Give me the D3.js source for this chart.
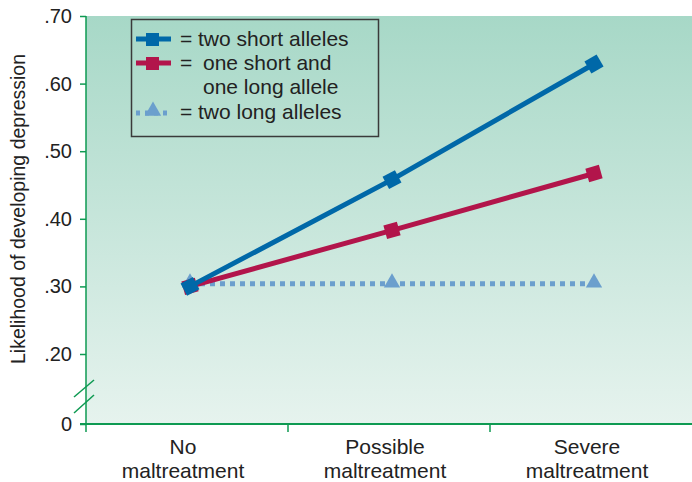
<!DOCTYPE html>
<html><head><meta charset="utf-8">
<script src="https://cdn.jsdelivr.net/npm/d3@7"></script>
<style>body{margin:0;background:#fff}svg{display:block;font-family:"Liberation Sans",Arial,sans-serif}</style>
</head><body>
<script>
const categories = [["No","maltreatment"],["Possible","maltreatment"],["Severe","maltreatment"]];
const twoShort = [0.30, 0.458, 0.629];
const oneShortOneLong = [0.30, 0.383, 0.467];
const twoLong = [0.304, 0.304, 0.304];
const yTicks = [0, 0.20, 0.30, 0.40, 0.50, 0.60, 0.70];
const yTickLabels = ["0", ".20", ".30", ".40", ".50", ".60", ".70"];
const legendLabels = [["two short alleles"],["one short and","one long allele"],["two long alleles"]];

const W = 692, H = 482;
const svg = d3.select("body").append("svg").attr("width", W).attr("height", H);
const mL = 86, mR = 692, mT = 16, mB = 424;
const FS = "20px", FS2 = "21px";

const xb = d3.scaleBand().domain(d3.range(categories.length)).range([mL, mR]);
const x = d3.scalePoint().domain(d3.range(categories.length)).range([190, 594]);
const y = d3.scaleLinear().domain([0, 0.2, 0.7]).range([mB, 354, mT]);

const defs = svg.append("defs");
const g = defs.append("linearGradient").attr("id","bg").attr("x1",0).attr("y1",0).attr("x2",0).attr("y2",1);
g.append("stop").attr("offset","0%").attr("stop-color","#a7d8c7");
g.append("stop").attr("offset","100%").attr("stop-color","#e6f3ee");
svg.append("rect").attr("x",mL).attr("y",mT).attr("width",mR-mL).attr("height",mB-mT).attr("fill","url(#bg)");

const green = "#0e9a52";
// y axis
const yAxis = d3.axisLeft(y).tickValues(yTicks).tickFormat((d,i)=>yTickLabels[i]).tickSize(6).tickPadding(8);
const ya = svg.append("g").attr("transform",`translate(${mL},0)`).call(yAxis);
ya.select(".domain").remove();
ya.selectAll(".tick line").attr("stroke",green).attr("stroke-width",1.5);
ya.selectAll(".tick text").attr("fill","#222").style("font-size",FS).style("font-family","'Liberation Sans',Arial,sans-serif");
svg.append("line").attr("x1",mL).attr("x2",mL).attr("y1",mT).attr("y2",mB+1).attr("stroke",green).attr("stroke-width",1.5);

// x axis
svg.append("line").attr("x1",mL-6).attr("x2",mR).attr("y1",mB).attr("y2",mB).attr("stroke",green).attr("stroke-width",2);
svg.selectAll(".xt").data(d3.range(categories.length)).enter().append("line")
  .attr("x1",d=>xb(d)).attr("x2",d=>xb(d)).attr("y1",mB).attr("y2",mB+8).attr("stroke",green).attr("stroke-width",1.5);
categories.forEach((c,i)=>{
  const cx = xb(i) + xb.bandwidth()/2 - 4;
  const t = svg.append("text").attr("x",cx).attr("y",454).attr("text-anchor","middle").attr("fill","#222").style("font-size",FS2);
  c.forEach((s,j)=>t.append("tspan").attr("x",cx).attr("dy", j===0?0:24).text(s));
});

// axis break
[[397,380],[413,395]].forEach(([y1,y2])=>{
  svg.append("line").attr("x1",74).attr("y1",y1).attr("x2",94).attr("y2",y2).attr("stroke",green).attr("stroke-width",1.5);
});

// y title
svg.append("text").attr("transform","translate(25,209) rotate(-90)").attr("text-anchor","middle").attr("fill","#222").style("font-size","19.5px").text("Likelihood of developing depression");

// series
const blue = "#0068a8", red = "#b2154b", lblue = "#6b9fcd";
const line = d3.line().x((d,i)=>x(i)).y(d=>y(d));

svg.append("path").datum(twoLong).attr("d",line).attr("fill","none").attr("stroke",lblue).attr("stroke-width",5).attr("stroke-dasharray","5,5");
const tri = d3.symbol().type(d3.symbolTriangle).size(115);
svg.selectAll(".tri").data(twoLong).enter().append("path").attr("d",tri).attr("fill",lblue)
  .attr("transform",(d,i)=>`translate(${x(i)},${y(d)-1})`);

function squares(data, color){
  svg.append("path").datum(data).attr("d",line).attr("fill","none").attr("stroke",color).attr("stroke-width",5);
  data.forEach((d,i)=>{
    const j = i===0?1:i;
    const ang = Math.atan2(y(data[j])-y(data[j-1]), x(j)-x(j-1))*180/Math.PI;
    svg.append("rect").attr("x",-7).attr("y",-7).attr("width",14).attr("height",14).attr("fill",color)
      .attr("transform",`translate(${x(i)},${y(d)}) rotate(${ang})`);
  });
}
squares(oneShortOneLong, red);
squares(twoShort, blue);

// legend
const lg = svg.append("g");
lg.append("rect").attr("x",131.5).attr("y",19.5).attr("width",247).attr("height",117).attr("fill","none").attr("stroke","#3a3a3a").attr("stroke-width",1.5);
const ly = [39, 63, 112];
const cols = [blue, red, lblue];
[0,1].forEach(k=>{
  lg.append("line").attr("x1",136).attr("x2",171).attr("y1",ly[k]).attr("y2",ly[k]).attr("stroke",cols[k]).attr("stroke-width",5);
  lg.append("rect").attr("x",146).attr("y",ly[k]-6).attr("width",13).attr("height",13).attr("fill",cols[k]);
});
lg.append("line").attr("x1",136).attr("x2",171).attr("y1",ly[2]+1).attr("y2",ly[2]+1).attr("stroke",lblue).attr("stroke-width",5).attr("stroke-dasharray","4,5");
lg.append("path").attr("d",tri).attr("fill",lblue).attr("transform",`translate(153,${ly[2]-1})`);
const ty = [46, 70, 119];
const txStart = [198, 203, 198];
legendLabels.forEach((ls,k)=>{
  lg.append("text").attr("x",180).attr("y",ty[k]).attr("fill","#222").style("font-size",FS2).text("=");
  const t = lg.append("text").attr("x",txStart[k]).attr("y",ty[k]).attr("fill","#222").style("font-size",FS2);
  ls.forEach((s,j)=>t.append("tspan").attr("x", txStart[k]).attr("dy", j===0?0:24).text(s));
});
</script>
</body></html>
